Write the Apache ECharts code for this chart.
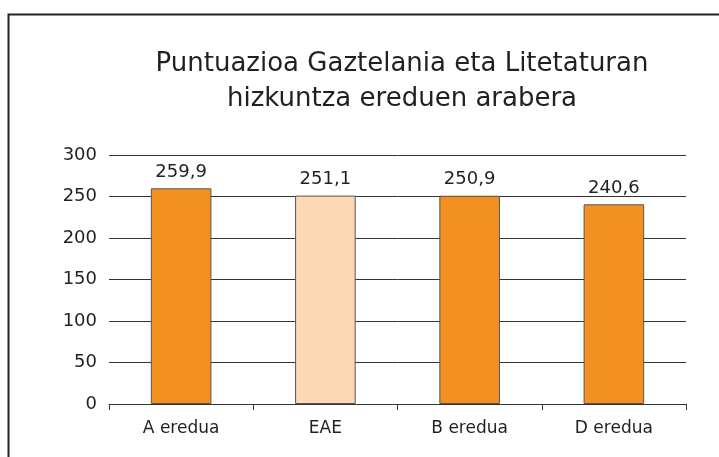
<!DOCTYPE html>
<html>
<head>
<meta charset="utf-8">
<script src="https://cdn.jsdelivr.net/npm/echarts@6/dist/echarts.min.js"></script>
<style>
  html, body { margin: 0; padding: 0; background: #fff; }
  #chart { width: 719px; height: 457px; }
</style>
</head>
<body>
<div id="chart"></div>
<script>
// ereduak eta puntuazioak
const categories = ['A eredua', 'EAE', 'B eredua', 'D eredua'];
const scores = [259.9, 251.1, 250.9, 240.6];
const barColors = ['#f39020', '#fcd9b4', '#f39020', '#f39020'];
const titleLines = ['Puntuazioa Gaztelania eta Litetaturan', 'hizkuntza ereduen arabera'];

const font = 'DejaVu Sans';
const chart = echarts.init(document.getElementById('chart'));

chart.setOption({
  animation: false,
  backgroundColor: '#fff',
  title: {
    text: titleLines.join('\n'),
    left: 397,
    top: 42,
    textAlign: 'center',
    textStyle: { fontFamily: font, fontSize: 26, fontWeight: 'normal', color: '#231f20', lineHeight: 35 }
  },
  graphic: [{
    type: 'rect',
    shape: { x: 8.5, y: 14.5, width: 760, height: 500 },
    style: { fill: 'none', stroke: '#222', lineWidth: 2 }
  }],
  grid: { left: 109, right: 33, top: 155, bottom: 53 },
  xAxis: {
    type: 'category',
    data: categories,
    axisLine: { lineStyle: { color: '#333', width: 1 } },
    axisTick: { show: true, length: 6, lineStyle: { color: '#333' } },
    axisLabel: { fontFamily: font, fontSize: 17, color: '#231f20', margin: 16 }
  },
  yAxis: {
    type: 'value',
    min: 0,
    max: 300,
    interval: 50,
    axisLine: { show: false },
    axisTick: { show: false },
    axisLabel: { fontFamily: font, fontSize: 18, color: '#231f20', margin: 12 },
    splitLine: { lineStyle: { color: '#333', width: 1 } }
  },
  series: [{
    type: 'bar',
    barWidth: '42%',
    data: scores.map((v, i) => ({
      value: v,
      itemStyle: { color: barColors[i], borderColor: '#555', borderWidth: 1 }
    })),
    label: {
      show: true,
      position: 'top',
      distance: 7,
      fontFamily: font,
      fontSize: 18,
      color: '#231f20',
      formatter: p => String(p.value).replace('.', ',')
    }
  }]
});
</script>
</body>
</html>
